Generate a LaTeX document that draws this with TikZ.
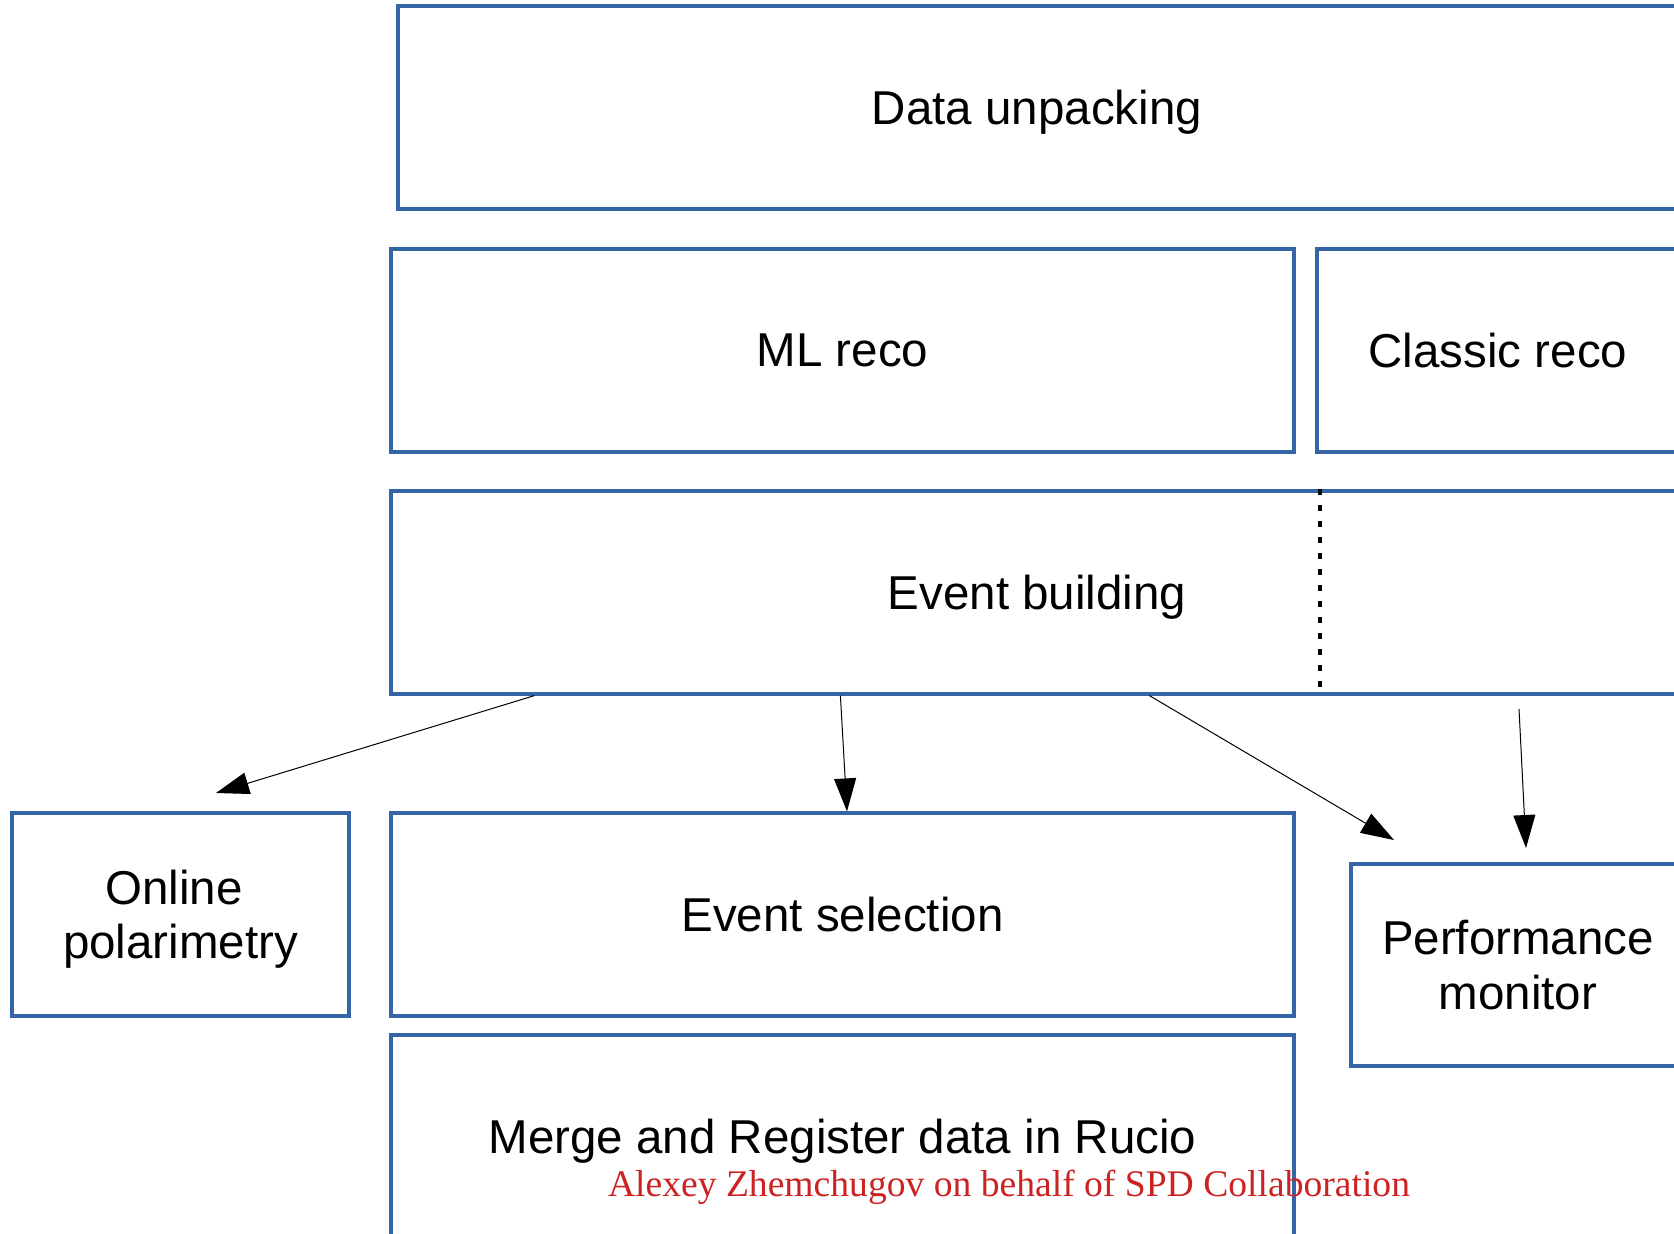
\documentclass[tikz,border=0pt]{standalone}
\usepackage{fontspec}
\setmainfont{Liberation Sans}
\newfontfamily\creditfont{Liberation Serif}
\usetikzlibrary{arrows.meta,calc}
\definecolor{boxblue}{RGB}{52,101,164}
\definecolor{creditred}{RGB}{204,34,34}
\tikzset{
  stage/.style={draw=boxblue, line width=1.6pt, inner sep=0pt, minimum height=101.5pt,
    align=center, text depth=0pt, font=\fontsize{23.75}{27.25}\selectfont},
  flow/.style={line width=0.5pt, -{Triangle[length=16.5pt,width=11pt]}},
  split/.style={line width=2pt, dash pattern=on 3pt off 5pt}
}
\begin{document}
\begin{tikzpicture}[x=0.5pt,y=-0.5pt]
  \useasboundingbox (0,0) rectangle (1674,1233);
  \clip (0,0) rectangle (1674,1233);
  \fill[white] (0,0) rectangle (1674,1233);

  % processing stages
  \node[stage, minimum width=639pt] (unpack) at (1037,107.5) {Data unpacking};
  \node[stage, minimum width=451.5pt] (mlreco) at (842.5,350.5) {ML reco};
  \node[stage, minimum width=181pt] (classic) at (1498,350.5) {Classic reco};
  \node[stage, minimum width=646pt] (evb) at (1037,592.5) {Event building};
  \node[stage, minimum width=168.5pt] (polar) at (180.5,914.5) {Online\kern0.28em\\polarimetry};
  \node[stage, minimum width=451.5pt] (esel) at (842.5,914.5) {Event selection};
  \node[stage, minimum width=167pt, minimum height=101pt] (perf) at (1518,965) {Performance\\monitor};
  \node[stage, minimum width=451.5pt] (merge) at (842.5,1136.5) {Merge and Register data in Rucio};

  % split between the two reconstruction branches
  \draw[split] ($(evb.north west)+(931,0)$) -- ($(evb.south west)+(931,-7)$);

  % free arrow ends
  \coordinate (polartip) at (216,793);
  \coordinate (perftip) at (1394,840);
  \coordinate (classtail) at (1519,709);
  \coordinate (classtip) at (1526,848);

  % data flow out of event building
  \draw[flow] ($(evb.south west)+(145,0)$) -- (polartip);
  \draw[flow] ($(evb.south west)+(451,0)$) -- ($(esel.north)+(4.5,0)$);
  \draw[flow] ($(evb.south west)+(760,0)$) -- (perftip);
  \draw[flow] (classtail) -- (classtip);

  % credit line
  \node[anchor=base, inner sep=0pt, text=creditred, font=\creditfont\fontsize{18.8}{22}\selectfont] (credit) at (1009,1196) {Alexey Zhemchugov on behalf of SPD Collaboration};
\end{tikzpicture}
\end{document}
